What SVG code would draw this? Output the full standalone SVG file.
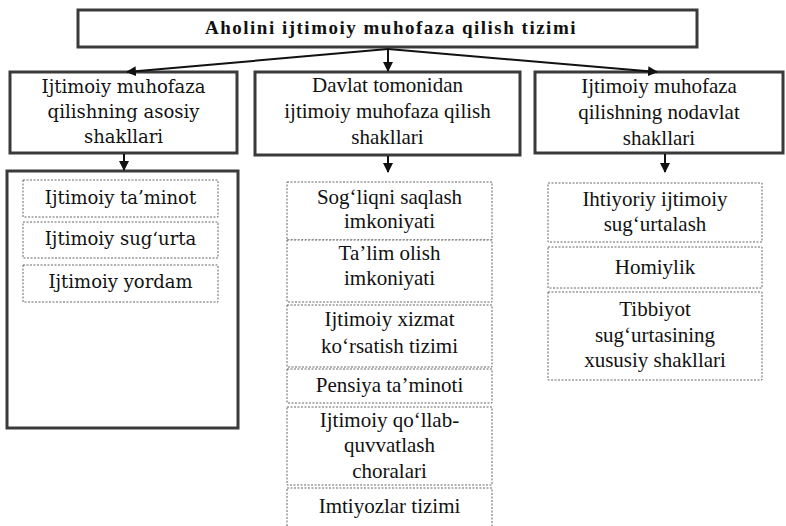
<svg xmlns="http://www.w3.org/2000/svg" width="786" height="526" viewBox="0 0 786 526">
<defs>
<marker id="ah" markerWidth="10" markerHeight="10" refX="9" refY="5" orient="auto" markerUnits="userSpaceOnUse"><path d="M0,0 L10,5 L0,10 z" fill="#111"/></marker>
</defs>
<style>
.thick{fill:#fff;stroke:#3a3a3a;stroke-width:3}
.dot{fill:#fff;stroke:#666;stroke-width:1;stroke-dasharray:2 1.5}
.t{font-family:"Liberation Serif","Times New Roman",serif;font-size:21px;fill:#111;text-anchor:middle}
.c{font-family:"DejaVu Serif",serif;font-size:18px;fill:#111;text-anchor:middle}
.h{font-family:"Liberation Serif","Times New Roman",serif;font-size:19px;font-weight:bold;letter-spacing:1.5px;fill:#111;text-anchor:middle}
.conn{stroke:#111;stroke-width:2;fill:none}
</style>
<rect width="786" height="526" fill="#fff"/>
<g id="top">
<rect class="thick" x="78" y="10" width="619" height="37"/>
<text class="h" x="391" y="34">Aholini ijtimoiy muhofaza qilish tizimi</text>
</g>
<g id="left-head">
<rect class="thick" x="10" y="72" width="227" height="81"/>
<text class="c" x="123.5" y="93">Ijtimoiy muhofaza</text>
<text class="c" x="123.5" y="118">qilishning asosiy</text>
<text class="c" x="123.5" y="143">shakllari</text>
</g>
<g id="mid-head">
<rect class="thick" x="255" y="72" width="265" height="83"/>
<text class="t" x="387.5" y="92">Davlat tomonidan</text>
<text class="t" x="387.5" y="118">ijtimoiy muhofaza qilish</text>
<text class="t" x="387.5" y="144">shakllari</text>
</g>
<g id="right-head">
<rect class="thick" x="535" y="72" width="248" height="81"/>
<text class="t" x="659" y="93">Ijtimoiy muhofaza</text>
<text class="t" x="659" y="119">qilishning nodavlat</text>
<text class="t" x="659" y="145">shakllari</text>
</g>
<g id="left-container">
<rect class="thick" x="7" y="171" width="231" height="257"/>
</g>
<g id="l1"><rect class="dot" x="23" y="180" width="195" height="37"/><text class="c" x="120.5" y="204">Ijtimoiy ta’minot</text></g>
<g id="l2"><rect class="dot" x="23" y="222" width="195" height="36"/><text class="c" x="120.5" y="245">Ijtimoiy sug‘urta</text></g>
<g id="l3"><rect class="dot" x="23" y="265" width="195" height="37"/><text class="c" x="120.5" y="288">Ijtimoiy yordam</text></g>
<g id="m1"><rect class="dot" x="287" y="182" width="205" height="58"/><text class="t" x="389.5" y="204">Sog‘liqni saqlash</text><text class="t" x="389.5" y="228">imkoniyati</text></g>
<g id="m2"><rect class="dot" x="287" y="240" width="205" height="62"/><text class="t" x="389.5" y="260">Ta’lim olish</text><text class="t" x="389.5" y="285">imkoniyati</text></g>
<g id="m3"><rect class="dot" x="287" y="305" width="205" height="62"/><text class="t" x="389.5" y="326">Ijtimoiy xizmat</text><text class="t" x="389.5" y="353">ko‘rsatish tizimi</text></g>
<g id="m4"><rect class="dot" x="287" y="369" width="205" height="34"/><text class="t" x="389.5" y="392">Pensiya ta’minoti</text></g>
<g id="m5"><rect class="dot" x="287" y="407" width="205" height="78"/><text class="t" x="389.5" y="427">Ijtimoiy qo‘llab-</text><text class="t" x="389.5" y="452">quvvatlash</text><text class="t" x="389.5" y="478">choralari</text></g>
<g id="m6"><rect class="dot" x="287" y="488" width="205" height="45"/><text class="t" x="389.5" y="513">Imtiyozlar tizimi</text></g>
<g id="r1"><rect class="dot" x="548" y="183" width="214" height="59"/><text class="t" x="655" y="206">Ihtiyoriy ijtimoiy</text><text class="t" x="655" y="231">sug‘urtalash</text></g>
<g id="r2"><rect class="dot" x="548" y="247" width="214" height="41"/><text class="t" x="655" y="274">Homiylik</text></g>
<g id="r3"><rect class="dot" x="548" y="292" width="214" height="88"/><text class="t" x="655" y="316">Tibbiyot</text><text class="t" x="655" y="342">sug‘urtasining</text><text class="t" x="655" y="367">xususiy shakllari</text></g>
<g id="connectors">
<line class="conn" x1="388" y1="49" x2="127" y2="72" marker-end="url(#ah)"/>
<line class="conn" x1="388" y1="49" x2="657" y2="72" marker-end="url(#ah)"/>
<line class="conn" x1="388" y1="49" x2="388" y2="71" marker-end="url(#ah)"/>
<line class="conn" x1="124" y1="154" x2="124" y2="170" marker-end="url(#ah)"/>
<line class="conn" x1="388" y1="156" x2="388" y2="172" marker-end="url(#ah)"/>
<line class="conn" x1="665" y1="154" x2="665" y2="172" marker-end="url(#ah)"/>
</g>
</svg>
